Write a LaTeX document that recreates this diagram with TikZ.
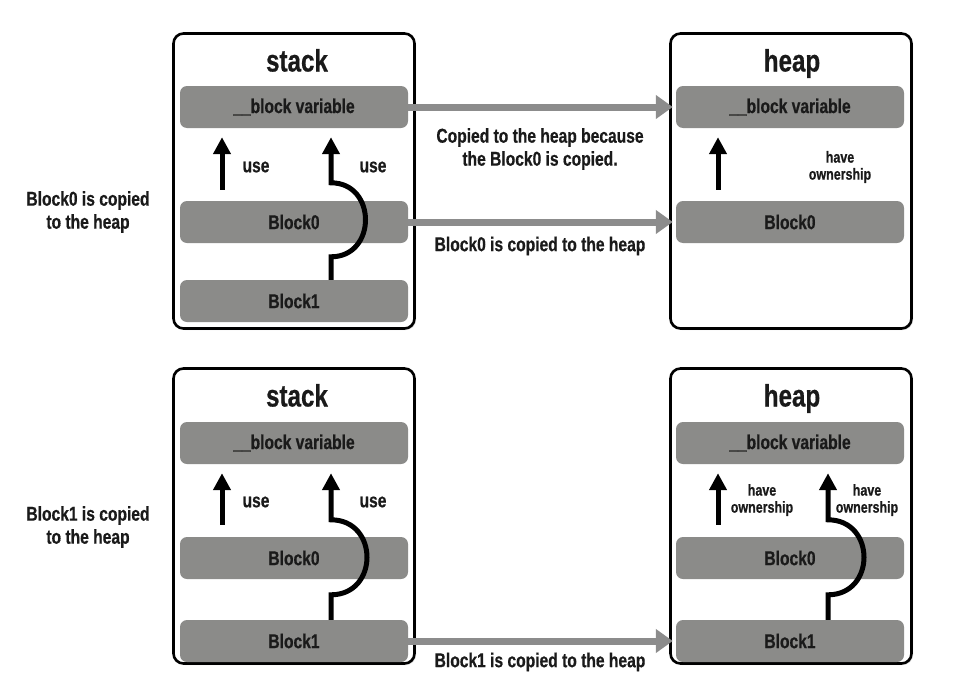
\documentclass[tikz,border=0pt]{standalone}
\usepackage{fontspec}
\setmainfont{Liberation Sans}[FakeStretch=0.78, BoldFeatures={FakeBold=0.6}]
\usetikzlibrary{arrows.meta,positioning,shadows}

\definecolor{barGray}{RGB}{139,139,137}
\definecolor{copyGray}{RGB}{140,140,140}
\definecolor{inkBlack}{RGB}{26,26,26}

\tikzset{
  panel/.style={draw=black, line width=2.6pt, rounded corners=10pt, fill=white,
    minimum width=241pt, minimum height=295pt,
    drop shadow={shadow xshift=1.5pt, shadow yshift=-1.5pt, opacity=0.25}},
  title/.style={font=\fontsize{31}{34}\selectfont\bfseries, text=inkBlack,
    text height=22pt, text depth=7pt},
  bar/.style={fill=barGray, rounded corners=7pt, minimum width=228pt, minimum height=42pt,
    inner sep=0pt, font=\fontsize{20}{24}\selectfont\bfseries, text=inkBlack},
  txt/.style={font=\fontsize{20}{23}\selectfont\bfseries, text=inkBlack, align=center},
  small/.style={font=\fontsize{16}{17}\selectfont\bfseries, text=inkBlack, align=center},
  copyarrow/.style={draw=copyGray, line width=7pt, -{Triangle[length=17pt,width=23pt]}},
  usearrow/.style={draw=black, line width=5pt, -{Triangle[length=17pt,width=17pt]}}
}

\begin{document}
\begin{tikzpicture}[x=1pt,y=-1pt]
  \useasboundingbox (0,0) rectangle (958,688);

  % Panels
  \node[panel] (stackA) at (294,181) {};
  \node[panel] (heapA) at (791,181) {};
  \node[panel] (stackB) at (294,516) {};
  \node[panel] (heapB) at (791,516) {};

  % Titles
  \node[title] (stackAtitle) at (297,64) {stack};
  \node[title] (heapAtitle) at (792,64) {heap};
  \node[title] (stackBtitle) at (297,399) {stack};
  \node[title] (heapBtitle) at (792,399) {heap};

  % Bars, first row
  \node[bar] (svA) at (294,107) {\_\_block variable};
  \node[bar] (s0A) at (294,222) {Block0};
  \node[bar] (s1A) at (294,301) {Block1};
  \node[bar] (hvA) at (790,107) {\_\_block variable};
  \node[bar] (h0A) at (790,222) {Block0};

  % Bars, second row
  \node[bar] (svB) at (294,443) {\_\_block variable};
  \node[bar] (s0B) at (294,558) {Block0};
  \node[bar] (s1B) at (294,641) {Block1};
  \node[bar] (hvB) at (790,443) {\_\_block variable};
  \node[bar] (h0B) at (790,558) {Block0};
  \node[bar] (h1B) at (790,641) {Block1};

  % Copies to the heap
  \draw[copyarrow] (svA.east) -- ([xshift=-3pt]hvA.west);
  \draw[copyarrow] (s0A.east) -- ([xshift=-3pt]h0A.west);
  \draw[copyarrow] (s1B.east) -- ([xshift=-3pt]h1B.west);
  \node[txt] (copyVarLbl) at (540,149) {Copied to the heap because\\the Block0 is copied.};
  \node[txt] (copyB0Lbl) at (540,246) {Block0 is copied to the heap};
  \node[txt] (copyB1Lbl) at (540,662) {Block1 is copied to the heap};

  % Steps
  \node[txt] (stepA) at (88,212) {Block0 is copied\\to the heap};
  \node[txt] (stepB) at (88,527) {Block1 is copied\\to the heap};

  % Uses, first row
  \draw[usearrow] ([xshift=-72pt,yshift=11pt]s0A.north) -- ([xshift=-72pt,yshift=-9pt]svA.south);
  \draw[usearrow] ([xshift=37pt]s1A.north) -- ++(0,-23)
    .. controls +(46,0) and +(46,0) .. ++(0,-74) -- ([xshift=37pt,yshift=-9pt]svA.south);
  \draw[usearrow] ([xshift=-72pt,yshift=11pt]h0A.north) -- ([xshift=-72pt,yshift=-9pt]hvA.south);
  \node[txt] (useA1) at (256,167) {use};
  \node[txt] (useA2) at (373,167) {use};
  \node[small] (ownA) at (840,167) {have\\ownership};

  % Uses, second row
  \draw[usearrow] ([xshift=-72pt,yshift=12pt]s0B.north) -- ([xshift=-72pt,yshift=-9pt]svB.south);
  \draw[usearrow] ([xshift=37pt]s1B.north) -- ++(0,-25)
    .. controls +(48,0) and +(48,0) .. ++(0,-75) -- ([xshift=37pt,yshift=-9pt]svB.south);
  \draw[usearrow] ([xshift=-72pt,yshift=12pt]h0B.north) -- ([xshift=-72pt,yshift=-9pt]hvB.south);
  \draw[usearrow] ([xshift=38pt]h1B.north) -- ++(0,-25)
    .. controls +(48,0) and +(48,0) .. ++(0,-75) -- ([xshift=38pt,yshift=-9pt]hvB.south);
  \node[txt] (useB1) at (256,502) {use};
  \node[txt] (useB2) at (373,502) {use};
  \node[small] (ownB1) at (762,500) {have\\ownership};
  \node[small] (ownB2) at (867,500) {have\\ownership};
\end{tikzpicture}
\end{document}
